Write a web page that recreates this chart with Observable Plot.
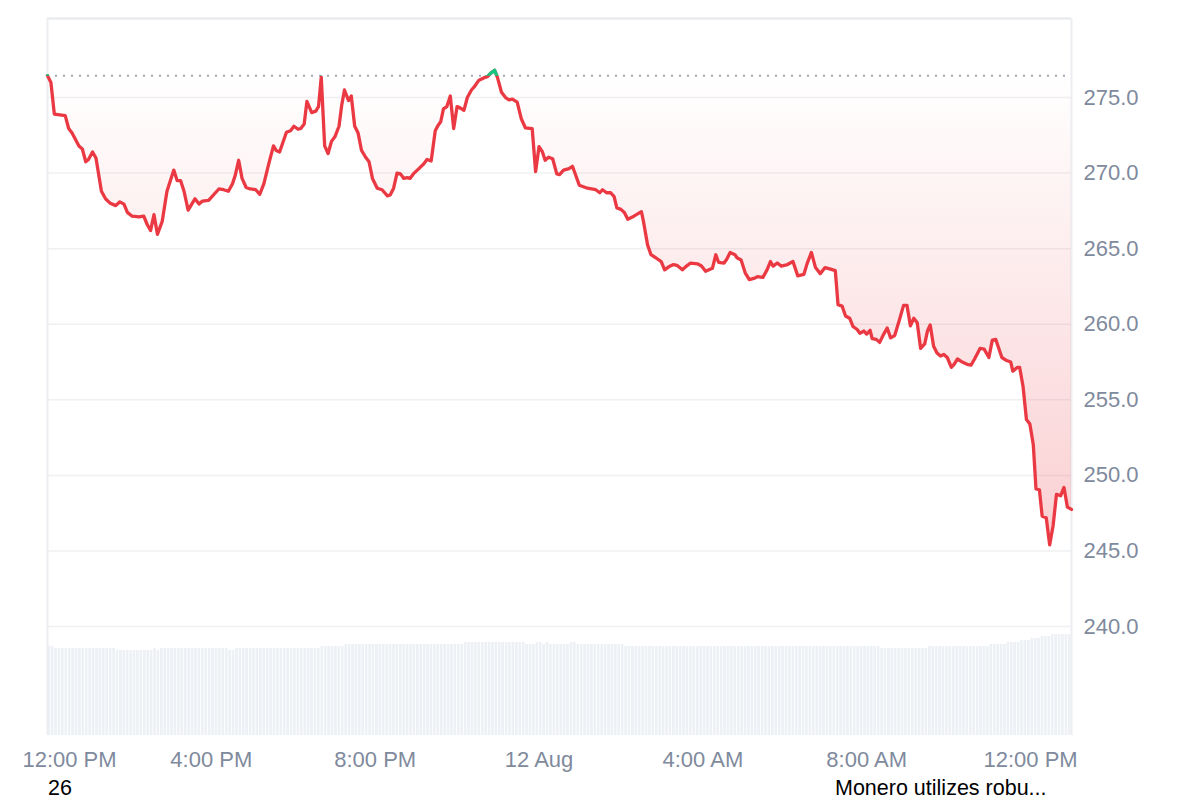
<!DOCTYPE html>
<html><head><meta charset="utf-8">
<script src="https://cdn.jsdelivr.net/npm/d3@7"></script>
<script src="https://cdn.jsdelivr.net/npm/@observablehq/plot@0.6"></script>
<style>
body{margin:0;background:#fff;font-family:"Liberation Sans",Arial,Helvetica,sans-serif;}
#wrap{position:relative;width:1200px;height:775px;}
#wrap svg{position:absolute;left:0;top:0;}
#caption{position:relative;width:1200px;height:25px;font-size:21.5px;color:#000;}
#caption span{position:absolute;top:4.5px;line-height:16px;white-space:nowrap;}
</style></head><body>
<div id="wrap"></div>
<div id="caption"><span style="left:48px">26</span><span style="left:835px">Monero utilizes robu...</span></div>
<script>
// Start of the window: 11 Aug, 12:00 PM (UTC used throughout)
const startTime = Date.UTC(2025, 7, 11, 12, 0);
const windowMinutes = 1500;

// Price series: minutes since start, price (USD)
const minutes = [0,5,10,26,31,36,46,51,56,60,
66,71,79,85,92,100,106,112,117,124,
134,141,146,151,156,161,168,175,185,190,
195,200,206,216,222,227,236,251,258,265,
271,275,280,285,291,297,305,311,317,324,
331,335,340,350,356,361,367,371,376,380,
387,393,397,401,406,411,416,421,427,431,
435,441,445,450,455,460,466,471,476,483,
490,498,502,507,512,517,522,527,531,537,
544,551,556,562,568,572,576,580,585,590,
595,600,605,610,615,621,625,632,639,645,
649,655,659,665,671,676,681,688,694,700,
710,715,720,725,729,734,740,746,750,756,
764,769,779,785,791,803,809,813,819,825,
830,834,840,845,850,859,870,873,879,884,
891,899,904,910,917,922,930,936,942,952,
958,964,974,979,983,991,995,1000,1007,1010,
1016,1022,1028,1036,1040,1048,1054,1059,1063,1069,
1075,1084,1092,1099,1108,1113,1119,1125,1132,1139,
1147,1154,1158,1164,1169,1175,1180,1186,1190,1196,
1200,1205,1208,1214,1219,1225,1230,1235,1241,1248,
1254,1259,1264,1269,1274,1279,1285,1289,1293,1298,
1303,1308,1313,1318,1324,1328,1333,1340,1347,1353,
1358,1366,1372,1379,1384,1389,1398,1405,1411,1414,
1421,1424,1429,1434,1439,1444,1448,1453,1457,1463,
1468,1473,1478,1484,1489,1494,1498,1500];

const prices = [276.45,276.0,273.9,273.8,272.95,272.65,271.8,271.6,270.75,270.9,
271.4,271.0,268.8,268.3,268.0,267.85,268.1,267.95,267.4,267.15,
267.1,267.15,266.6,266.2,267.25,265.95,266.8,268.8,270.2,269.5,
269.5,268.8,267.55,268.3,267.95,268.15,268.2,268.95,268.9,268.8,
269.3,269.85,270.85,269.65,269.05,268.95,268.9,268.6,269.3,270.6,
271.8,271.5,271.4,272.7,272.8,273.1,272.9,272.95,273.25,274.75,
274.0,274.1,274.4,276.35,271.8,271.3,272.1,272.4,273.1,274.5,
275.5,274.8,275.1,273.1,272.65,271.5,271.05,270.75,269.65,269.0,
268.9,268.5,268.55,269.0,270.0,269.95,269.65,269.7,269.65,270.0,
270.3,270.6,270.9,270.8,272.8,273.15,273.4,274.25,274.4,275.1,
272.95,274.4,274.3,274.15,275.0,275.5,275.7,276.15,276.3,276.4,
276.6,276.8,276.35,275.35,275.0,274.85,274.9,274.7,273.6,273.0,
272.95,270.1,271.75,271.4,270.85,271.05,270.95,269.95,269.9,270.2,
270.3,270.45,269.2,269.1,269.0,268.9,268.7,268.9,268.7,268.7,
268.45,267.7,267.6,267.4,266.95,267.15,267.45,266.8,265.25,264.6,
264.4,264.15,263.6,263.8,263.95,263.9,263.6,263.85,264.05,264.0,
263.85,263.5,263.7,264.6,264.1,264.05,264.3,264.75,264.6,264.4,
264.25,263.4,262.95,263.05,263.15,263.1,263.6,264.15,263.85,264.05,
263.85,263.95,264.15,263.2,263.3,264.05,264.75,263.75,263.35,263.75,
263.65,263.55,261.3,261.2,260.55,260.4,259.85,259.65,259.4,259.55,
259.35,259.6,259.05,259.0,258.8,259.35,259.75,259.1,259.25,260.3,
261.25,261.25,259.9,260.4,260.1,258.4,258.7,259.55,259.95,258.55,
258.1,257.9,258.0,257.8,257.15,257.35,257.7,257.5,257.35,257.3,
257.7,258.4,258.35,257.8,258.95,259.0,257.8,257.6,257.5,256.9,
257.15,257.15,255.9,253.7,253.4,252.05,249.1,249.05,247.3,247.2,
245.4,246.65,248.75,248.65,249.2,247.9,247.8,247.75];

// Volume bars, one per 5 minutes (relative height units)
const volume = [89,89,87,87,87,87,87,87,87,87,87,87,87,87,87,87,87,87,87,87,
85,85,85,85,85,85,85,85,85,85,85,87,85,87,87,87,87,87,87,87,
87,87,87,87,87,87,87,87,87,87,87,87,87,85,85,87,87,87,87,87,
87,87,87,87,87,87,87,87,87,87,87,87,87,87,87,87,87,87,87,87,
89,89,89,89,89,89,89,91,91,91,91,91,91,91,91,91,91,91,91,91,
91,91,91,91,91,91,91,91,91,91,91,91,91,91,91,91,91,91,91,91,
91,91,93,93,93,93,93,93,93,93,93,93,93,93,93,93,93,93,93,93,
91,91,91,93,93,91,93,91,91,91,91,91,91,93,93,91,91,91,91,91,
91,91,91,91,91,91,91,91,91,89,89,89,89,89,89,89,89,89,89,89,
89,89,89,89,89,89,89,89,89,89,89,89,89,89,89,89,89,89,89,89,
89,89,89,89,89,89,89,89,89,89,89,89,89,89,89,89,89,89,89,89,
89,89,89,89,89,89,89,89,89,89,89,89,89,89,89,89,89,89,89,89,
89,89,89,89,87,87,87,87,87,87,87,87,87,87,87,87,87,87,89,89,
89,89,89,89,89,89,89,89,89,89,89,89,89,89,89,89,91,91,91,91,
91,93,93,93,93,95,95,95,97,97,97,99,99,99,101,101,101,101,101,101];

const yTicks = [240, 245, 250, 255, 260, 265, 270, 275];
const xTickTimes = ["2025-08-11T12:00Z","2025-08-11T16:00Z","2025-08-11T20:00Z","2025-08-12T00:00Z","2025-08-12T04:00Z","2025-08-12T08:00Z","2025-08-12T12:00Z"];
const xTickLabels = ["12:00 PM","4:00 PM","8:00 PM","12 Aug","4:00 AM","8:00 AM","12:00 PM"];

const RED = "#ea3943", GREEN = "#16c784", LABEL = "#808a9d";
const FONT = '"Liberation Sans", Arial, Helvetica, sans-serif';

const series = minutes.map((m, i) => ({t: new Date(startTime + m * 60000), p: prices[i]}));
const baseline = prices[0];
const xDomain = [new Date(startTime), new Date(startTime + windowMinutes * 60000)];
const yDomain = [232.79, 280.23];
const volRows = volume.map((v, i) => ({t1: new Date(startTime + i * 300000), t2: new Date(startTime + (i + 1) * 300000), v}));
const xLabelRows = xTickTimes.map((s, i) => ({t: new Date(s), label: xTickLabels[i]}));

const dims = {width: 1200, height: 775, marginLeft: 47, marginRight: 129, marginTop: 18, marginBottom: 40};

const volPlot = Plot.plot({
  ...dims,
  style: {background: "transparent"},
  x: {type: "utc", domain: xDomain, axis: null},
  y: {domain: [0, 110], range: [735, 625], axis: null},
  marks: [
    Plot.rectY(volRows, {x1: "t1", x2: "t2", y: "v", fill: "#edf0f4", insetLeft: 0.4, insetRight: 0.4})
  ]
});

const main = Plot.plot({
  ...dims,
  style: {background: "transparent", fontFamily: FONT, overflow: "visible"},
  x: {type: "utc", domain: xDomain, axis: null},
  y: {domain: yDomain, axis: null},
  marks: [
    Plot.ruleY(yTicks, {stroke: "#eff0f2", strokeWidth: 1.5}),
    Plot.ruleY([yDomain[1]], {stroke: "#e6e7ea", strokeWidth: 2}),
    Plot.ruleX(xDomain, {stroke: "#eceef1", strokeWidth: 2}),
    Plot.areaY(series, {x: "t", y1: baseline, y2: "p", fill: RED, className: "down-area"}),
    Plot.areaY(series, {x: "t", y1: baseline, y2: "p", fill: GREEN, className: "up-area"}),
    Plot.ruleY([baseline], {stroke: "#a3a8b2", strokeWidth: 2, strokeDasharray: "2 6"}),
    Plot.line(series, {x: "t", y: "p", stroke: RED, strokeWidth: 3.3, className: "down-line"}),
    Plot.line(series, {x: "t", y: "p", stroke: GREEN, strokeWidth: 3.3, className: "up-line"}),
    Plot.text(yTicks, {y: d => d, text: d => d3.format(".1f")(d), frameAnchor: "right", textAnchor: "start", dx: 12, fill: LABEL, fontSize: 22}),
    Plot.text(xLabelRows.slice(0, 1), {x: "t", text: "label", frameAnchor: "bottom", dy: 31, dx: 22, fill: LABEL, fontSize: 22}),
    Plot.text(xLabelRows.slice(1), {x: "t", text: "label", frameAnchor: "bottom", dy: 31, fill: LABEL, fontSize: 22})
  ]
});

// gradients and clipping around the baseline (opening price)
const yScale = main.scale("y");
const yb = yScale.apply(baseline);
const yMin = yScale.apply(d3.min(prices));
const yMax = yScale.apply(d3.max(prices));
const svg = d3.select(main);
const defs = svg.insert("defs", ":first-child");
const gDown = defs.append("linearGradient").attr("id", "downFill").attr("gradientUnits", "userSpaceOnUse")
  .attr("x1", 0).attr("x2", 0).attr("y1", yb).attr("y2", yMin);
gDown.append("stop").attr("offset", 0).attr("stop-color", RED).attr("stop-opacity", 0);
gDown.append("stop").attr("offset", 1).attr("stop-color", RED).attr("stop-opacity", 0.24);
const gUp = defs.append("linearGradient").attr("id", "upFill").attr("gradientUnits", "userSpaceOnUse")
  .attr("x1", 0).attr("x2", 0).attr("y1", yb).attr("y2", yMax);
gUp.append("stop").attr("offset", 0).attr("stop-color", GREEN).attr("stop-opacity", 0);
gUp.append("stop").attr("offset", 1).attr("stop-color", GREEN).attr("stop-opacity", 0.15);
defs.append("clipPath").attr("id", "clipBelow").append("rect").attr("x", 0).attr("y", yb).attr("width", 1200).attr("height", 775 - yb);
defs.append("clipPath").attr("id", "clipAbove").append("rect").attr("x", 0).attr("y", 0).attr("width", 1200).attr("height", yb);

svg.selectAll("g.down-area").attr("clip-path", "url(#clipBelow)").attr("fill", "url(#downFill)")
  .selectAll("path").attr("fill", "url(#downFill)");
svg.selectAll("g.up-area").attr("clip-path", "url(#clipAbove)").attr("fill", "url(#upFill)")
  .selectAll("path").attr("fill", "url(#upFill)");
svg.selectAll("g.up-line").attr("clip-path", "url(#clipAbove)");

const wrap = document.getElementById("wrap");
wrap.appendChild(volPlot);
wrap.appendChild(main);
</script>
</body></html>
